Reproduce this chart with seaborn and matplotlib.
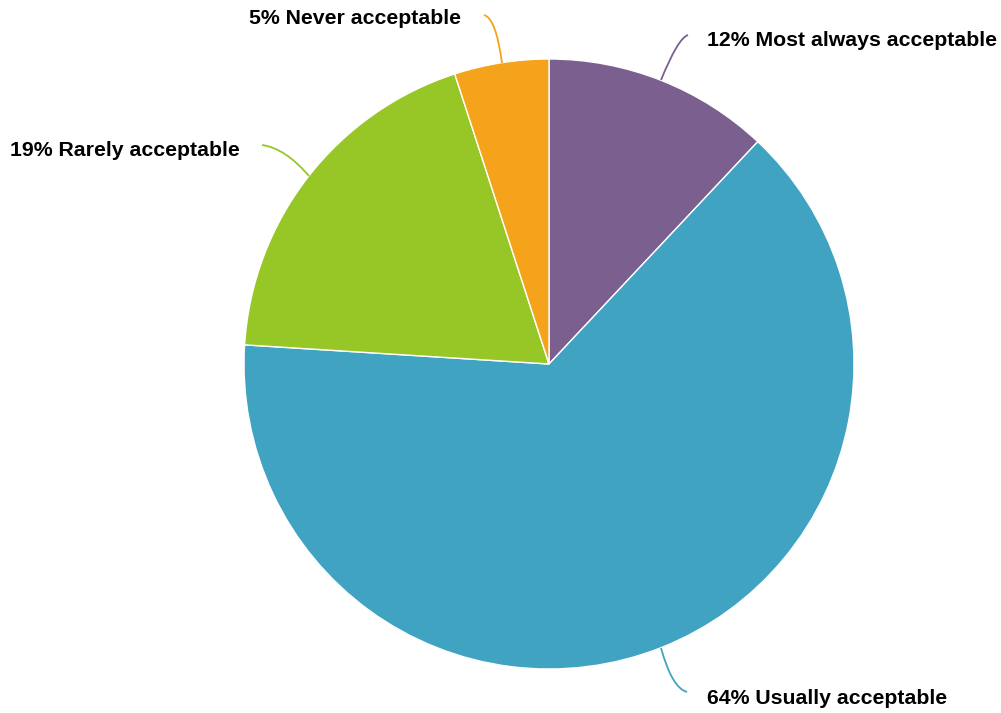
import matplotlib
matplotlib.use("Agg")
import matplotlib.pyplot as plt
from matplotlib.path import Path
from matplotlib.patches import PathPatch
import seaborn as sns

# Survey answers, clockwise from 12 o'clock
categories = ["Most always acceptable", "Usually acceptable", "Rarely acceptable", "Never acceptable"]
shares = [12, 64, 19, 5]
colors = ["#7B5F8E", "#40A3C2", "#96C727", "#F5A31A"]

sns.set_theme(style="white")
plt.rcParams["font.family"] = ["Liberation Sans", "DejaVu Sans"]

W, H = 1001, 713
fig = plt.figure(figsize=(W / 100, H / 100), dpi=100)
ax = fig.add_axes([0, 0, 1, 1])

cx, cy, r = 549, 364, 305
# The y axis runs downward (pixel-like coordinates), so startangle=-90 points
# to the top and counterclock=True sweeps clockwise on screen.
ax.pie(
    shares,
    colors=colors,
    startangle=-90,
    counterclock=True,
    center=(cx, cy),
    radius=r,
    wedgeprops=dict(edgecolor="white", linewidth=1),
    frame=True,
)
ax.set_xlim(0, W)
ax.set_ylim(H, 0)
ax.set_aspect("equal")
ax.axis("off")

# leader lines: start on rim, control point, end
leaders = [
    ((661, 80), (678, 38), (688, 35)),
    ((661, 648), (672, 688), (687, 692)),
    ((309, 176), (285, 148), (262, 145)),
    ((502, 63), (496, 18), (484, 15)),
]
labels = [
    (707, 41, "left"),
    (707, 698, "left"),
    (240, 151, "right"),
    (461, 19, "right"),
]
for (p0, p1, p2), (tx, ty, ha), cat, val, col in zip(leaders, labels, categories, shares, colors):
    path = Path([p0, p1, p2], [Path.MOVETO, Path.CURVE3, Path.CURVE3])
    ax.add_patch(PathPatch(path, facecolor="none", edgecolor=col, linewidth=1.3))
    ax.text(tx, ty, f"{val}% {cat}", ha=ha, va="center", fontsize=15.3,
            fontweight="bold", color="#000000")

fig.savefig("out.png", dpi=100)
